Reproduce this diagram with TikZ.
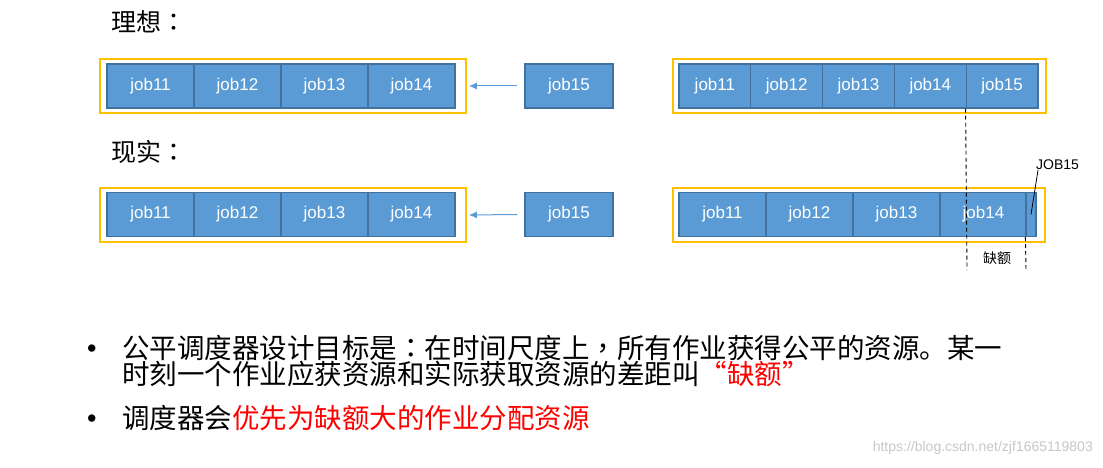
\documentclass[tikz,border=0pt]{standalone}
\usepackage{fontspec}
\setmainfont{Liberation Sans}
\newfontfamily\cjk{Noto Sans CJK SC}
\newfontfamily\cjkp{Noto Sans CJK TC}
\usetikzlibrary{arrows.meta,positioning}
\definecolor{JobBlue}{HTML}{5B9BD5}
\definecolor{JobEdge}{HTML}{41719C}
\definecolor{FrameGold}{HTML}{FFC000}
\definecolor{MarkRed}{HTML}{FF0000}
\begin{document}
\begin{tikzpicture}[
  x=1pt,y=-1pt,
  job/.style={draw=JobEdge,fill=JobBlue,text=white,line width=1.2pt,inner sep=0pt,
    minimum width=87pt,minimum height=44pt,font=\fontsize{17}{20}\selectfont},
  jobs/.style={job,minimum width=71.8pt},
  frame/.style={draw=FrameGold,line width=1.8pt,inner sep=0pt,minimum height=54pt},
  feed/.style={-{Latex[length=8pt,width=7pt]},JobBlue,line width=1pt},
  gap/.style={black,line width=0.9pt,dash pattern=on 4pt off 3pt},
  head/.style={anchor=west,font=\cjk\fontsize{25}{28}\selectfont},
  dot/.style={anchor=base west,inner sep=0pt,font=\fontsize{27}{30}\selectfont},
  body/.style={anchor=base west,align=left,inner sep=0pt,font=\cjk\fontsize{27.5}{26}\selectfont}
]
  \useasboundingbox (0,0) rectangle (1103,468);
  % ideal
  \node[head] (hideal) at (108,22) {理想{\cjkp ：}};
  \node[frame,minimum width=366pt] (f1) at (283,86) {};
  \foreach \n [count=\i] in {11,12,13,14}
    \node[job] (i\n) at ({150.5+87*(\i-1)},86) {job\n};
  \node[job,minimum width=88pt] (i15) at (569,86) {job15};
  \draw[feed] ([xshift=-7pt]i15.west) -- ([xshift=2pt]f1.east);
  \node[frame,minimum width=373pt] (f2) at (859.5,86) {};
  \foreach \n [count=\i] in {11,12,13,14,15}
    \node[jobs] (a\n) at ({714.9+71.8*(\i-1)},86) {job\n};
  % reality
  \node[head] (hreal) at (108,152) {现实{\cjkp ：}};
  \node[frame,minimum width=366pt] (f3) at (283,215) {};
  \foreach \n [count=\i] in {11,12,13,14}
    \node[job] (r\n) at ({150.5+87*(\i-1)},214.5) {job\n};
  \node[job,minimum width=88pt] (r15) at (569,214.5) {job15};
  \draw[feed] ([xshift=-7pt]r15.west) -- ([xshift=2pt]f3.east);
  \node[frame,minimum width=372pt] (f4) at (859,215) {};
  \foreach \n [count=\i] in {11,12,13,14}
    \node[job] (b\n) at ({722.5+87*(\i-1)},214.5) {job\n};
  \node[job,minimum width=10pt] (b15) at (1031,214.5) {};
  % shortfall
  \coordinate (g1) at (967,270);
  \coordinate (g2) at (1026,270);
  \draw[gap] (a15.south west) -- (g1);
  \draw[gap] (b15.south west) -- (g2);
  \node[font=\cjk\fontsize{14}{16}\selectfont] (quota) at (997,258) {缺额};
  \node[anchor=west,inner sep=0pt,font=\fontsize{14}{16}\selectfont] (tag) at (1036,165) {JOB15};
  \draw[black,line width=0.8pt] ([xshift=2pt]tag.south west) -- (b15.center);
  % notes
  \node[dot] (dot1) at (87,357) {•};
  \node[body] (note1) at (122,384)
    {公平调度器设计目标是{\cjkp ：}在时间尺度上{\cjkp ，}所有作业获得公平的资源。某一\\[0pt]
     时刻一个作业应获资源和实际获取资源的差距叫\textcolor{MarkRed}{“缺额”}};
  \node[dot] (dot2) at (87,427) {•};
  \node[body] (note2) at (122,428) {调度器会\textcolor{MarkRed}{优先为缺额大的作业分配资源}};
  \node[anchor=east,inner sep=0pt,text=black!22,font=\fontsize{14}{16}\selectfont] (mark) at (1093,448)
    {https://blog.csdn.net/zjf1665119803};
\end{tikzpicture}
\end{document}
